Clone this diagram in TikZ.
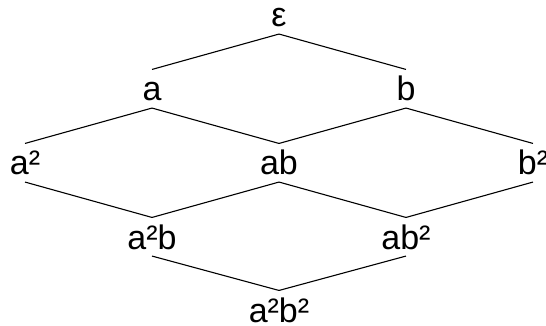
\documentclass[tikz,border=0pt]{standalone}
\usepackage{fontspec}
\setmainfont{Liberation Sans}
\usepackage{tikz}
\begin{document}
\begin{tikzpicture}[x=1pt,y=-1pt,line width=1.1pt,
  word/.style={anchor=base,inner sep=0pt,text height=31pt,text depth=6.5pt,font=\fontsize{34}{40}\selectfont}]
  \useasboundingbox (0,0) rectangle (546,326);
  \node[word] (E) at (279,27) {ε};
  \node[word] (A) at (152,101) {a};
  \node[word] (B) at (406,101) {b};
  \node[word] (AA) at (25,175) {a²};
  \node[word] (AB) at (279,175) {ab};
  \node[word] (BB) at (533,175) {b²};
  \node[word] (AAB) at (152,249) {a²b};
  \node[word] (ABB) at (406,249) {ab²};
  \node[word,text depth=0pt] (AABB) at (279,322) {a²b²};
  \foreach \u/\v in {E/A,E/B,A/AA,A/AB,B/AB,B/BB,AA/AAB,AB/AAB,AB/ABB,BB/ABB,AAB/AABB,ABB/AABB}{
    \draw (\u.south) -- (\v.north);
  }
\end{tikzpicture}
\end{document}
